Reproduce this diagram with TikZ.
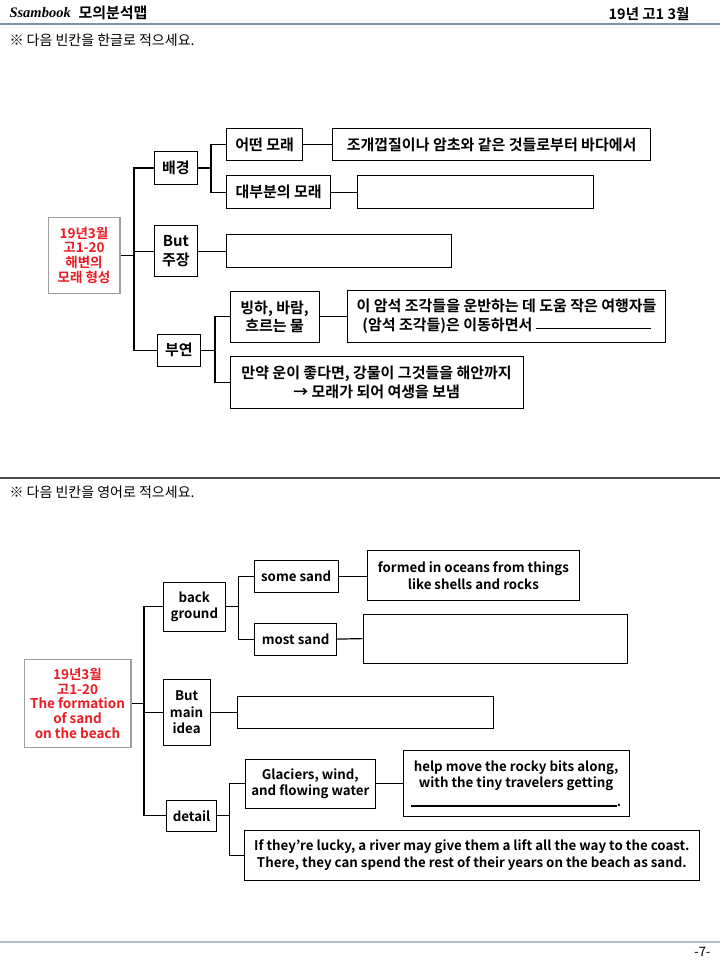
\documentclass[tikz,border=0pt]{standalone}
\usepackage{fontspec}
\setmainfont{Noto Sans CJK KR}[BoldFont={Noto Sans CJK KR Bold}]
\newfontfamily\logofont{Liberation Serif}
\definecolor{rootred}{RGB}{236,28,36}
\definecolor{rulecol}{RGB}{125,145,175}
\definecolor{rootgray}{RGB}{160,160,160}
\newcommand\bx[7][box]{\node[#1, minimum width={(#5-#3)*1pt}, minimum height={(#6-#4)*1pt}] (#2) at (#3,#4) {#7};}
\begin{document}
\begin{tikzpicture}[x=1pt,y=-1pt,
  box/.style={draw, line width=1.2pt, inner sep=0pt, align=center, anchor=north west,
    font=\bfseries\fontsize{15}{18.5}\selectfont},
  ebox/.style={box, font=\bfseries\fontsize{13.3}{16.7}\selectfont},
  rootbox/.style={box, draw=rootgray, line width=1.5pt, text=rootred, font=\bfseries\fontsize{13.5}{14.7}\selectfont},
  conn/.style={line width=1.2pt}]
\useasboundingbox[fill=white] (0,0) rectangle (720,960);

% header
\node[anchor=west, font=\logofont\bfseries\itshape\fontsize{14.5}{14}\selectfont] (logo) at (6,13) {Ssambook};
\node[anchor=west, font=\bfseries\fontsize{15}{15}\selectfont] (title) at (75,13) {모의분석맵};
\node[anchor=east, font=\bfseries\fontsize{14.5}{14}\selectfont] (exam) at (693,14) {19년 고1 3월};
\draw[rulecol, line width=1.5pt] (0,24) -- (720,24);
\node[anchor=west, font=\fontsize{14}{14}\selectfont] (ins1) at (6,40) {※ 다음 빈칸을 한글로 적으세요.};
\draw[black!70, line width=1.5pt] (0,478) -- (720,478);
\node[anchor=west, font=\fontsize{14}{14}\selectfont] (ins2) at (6,492) {※ 다음 빈칸을 영어로 적으세요.};
\draw[rulecol!60, line width=1.2pt] (0,942) -- (720,942);
\node[anchor=east, font=\fontsize{13}{13}\selectfont] (page) at (714,952) {-7-};

% ===== top tree =====
\bx[rootbox]{troot}{47.5}{216.5}{119}{292.5}{19년3월\\고1-20\\해변의\\모래 형성}
\bx{tbg}{153.5}{151}{197}{184}{배경}
\bx{tbut}{153.5}{225}{197}{276}{But\\주장}
\bx{tbu}{156.5}{333.5}{200}{366}{부연}
\bx{ta1}{226}{128}{302}{160}{어떤 모래}
\bx{ta2}{226}{175}{330}{208}{대부분의 모래}
\bx{tc1}{332}{128}{650}{160}{조개껍질이나 암초와 같은 것들로부터 바다에서}
\bx{tc2}{357}{175}{593}{208}{}
\bx{tbutx}{226}{234}{451}{267}{}
\bx{td1}{229.5}{291}{318.5}{341.5}{빙하, 바람,\\흐르는 물}
\bx{td1x}{347}{290}{665}{341.5}{이 암석 조각들을 운반하는 데 도움 작은 여행자들\\(암석 조각들)은 이동하면서 \rule[1.5pt]{115pt}{1.2pt}}
\bx{td2}{229.5}{356}{522.5}{407.5}{만약 운이 좋다면, 강물이 그것들을 해안까지\\→ 모래가 되어 여생을 보냄}

\coordinate (tt) at (134,0);
\coordinate (tb1) at (211,0);
\coordinate (tb2) at (215,0);
\draw[conn] (troot.east) -- (troot.east -| tt);
\draw[conn] (tbg.west) -- (tbg.west -| tt) -- (tbu.west -| tt) -- (tbu.west);
\draw[conn] (tbut.west) -- (tbut.west -| tt);
\draw[conn] (tbg.east) -- (tbg.east -| tb1);
\draw[conn] (ta1.west) -- (ta1.west -| tb1) -- (ta2.west -| tb1) -- (ta2.west);
\draw[conn] (ta1.east) -- (tc1.west);
\draw[conn] (ta2.east) -- (tc2.west);
\draw[conn] (tbut.east) -- (tbutx.west);
\draw[conn] (tbu.east) -- (tbu.east -| tb2);
\draw[conn] (td1.west) -- (td1.west -| tb2) -- (td2.west -| tb2) -- (td2.west);
\draw[conn] (td1.east) -- (td1.east -| td1x.west);

% ===== bottom tree =====
\bx[rootbox]{broot}{23.5}{658.5}{130}{746.5}{19년3월\\고1-20\\The formation\\of sand\\on the beach}
\bx[ebox]{bbg}{162.5}{581.5}{225}{631}{back\\ground}
\bx[ebox]{bbut}{162.5}{678.5}{209.5}{745}{But\\main\\idea}
\bx[ebox]{bdet}{166}{799.5}{216}{831}{detail}
\bx[ebox]{bs1}{253.5}{559.5}{337.5}{591.5}{some sand}
\bx[ebox]{bs2}{254}{622.5}{336}{654.5}{most sand}
\bx[ebox]{bs1x}{366.5}{550}{579}{600}{formed in oceans from things\\like shells and rocks}
\bx[ebox]{bs2x}{362.5}{613.5}{626.5}{662.5}{}
\bx[ebox]{bbutx}{236.5}{695.5}{492.5}{727.5}{}
\bx[ebox]{bg1}{244.5}{758.5}{375}{807.5}{Glaciers, wind,\\and flowing water}
\bx[ebox]{bg1x}{402.5}{750}{628.5}{816}{help move the rocky bits along,\\with the tiny travelers getting\\[2pt]\rule{206pt}{1.5pt}.}
\bx[ebox]{bg2}{244}{830}{698.5}{879.5}{If they’re lucky, a river may give them a lift all the way to the coast.\\There, they can spend the rest of their years on the beach as sand.}

\coordinate (bt) at (144,0);
\coordinate (bb1) at (238.5,0);
\coordinate (bb2) at (229.5,0);
\draw[conn] (broot.east) -- (broot.east -| bt);
\draw[conn] (bbg.west) -- (bbg.west -| bt) -- (bdet.west -| bt) -- (bdet.west);
\draw[conn] (bbut.west) -- (bbut.west -| bt);
\draw[conn] (bbg.east) -- (bbg.east -| bb1);
\draw[conn] (bs1.west) -- (bs1.west -| bb1) -- (bs2.west -| bb1) -- (bs2.west);
\draw[conn] (bs1.east) -- (bs1.east -| bs1x.west);
\draw[conn] (bs2.east) -- (bs2x.west);
\draw[conn] (bbut.east) -- (bbut.east -| bbutx.west);
\draw[conn] (bdet.east) -- (bdet.east -| bb2);
\draw[conn] (bg1.west) -- (bg1.west -| bb2) -- (bg2.west -| bb2) -- (bg2.west);
\draw[conn] (bg1.east) -- (bg1.east -| bg1x.west);
\end{tikzpicture}
\end{document}
